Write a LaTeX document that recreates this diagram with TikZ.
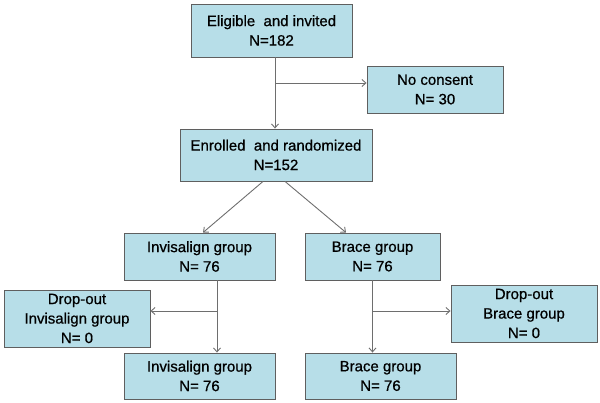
\documentclass[tikz,border=0pt]{standalone}
\usepackage{fontspec}
\setmainfont{Liberation Sans}
\newfontfamily\flowfont{Liberation Sans}[FakeBold=0.7]
\usepackage{tikz}
\usetikzlibrary{arrows.meta, positioning}
\definecolor{boxfill}{RGB}{183,222,232}
\definecolor{boxline}{RGB}{95,95,95}
\definecolor{flowline}{RGB}{110,110,110}
\tikzstyle{stage} = [rectangle, draw=boxline, fill=boxfill, line width=0.9pt, inner sep=0pt, align=center, font=\flowfont\fontsize{15}{19.5}\selectfont]
\tikzstyle{arrow} = [draw=flowline, line width=0.9pt, -{Straight Barb[length=4pt,width=7pt]}]

\begin{document}
\begin{tikzpicture}[x=1pt, y=-1pt]
\useasboundingbox (0,0) rectangle (600,403);

\node (elig) [stage, minimum width=161pt, minimum height=53pt] at (271.5,30.5) {Eligible\ \ and invited\\N=182};
\node (nocons) [stage, minimum width=136pt, minimum height=47pt] at (435,89.5) {No consent\\N= 30};
\node (enrol) [stage, minimum width=192pt, minimum height=52pt] at (276,155) {Enrolled\ \ and randomized\\N=152};
\node (inv1) [stage, minimum width=151pt, minimum height=47pt] at (199.5,256.5) {Invisalign group\\N= 76};
\node (brace1) [stage, minimum width=135pt, minimum height=47pt] at (372.5,256.5) {Brace group\\N= 76};
\node (dropinv) [stage, minimum width=146pt, minimum height=57pt] at (77,318.5) {Drop-out\\Invisalign group\\N= 0};
\node (dropbr) [stage, minimum width=146pt, minimum height=57pt] at (524,313.5) {Drop-out\\Brace group\\N= 0};
\node (inv2) [stage, minimum width=151pt, minimum height=46pt] at (199.5,376) {Invisalign group\\N= 76};
\node (brace2) [stage, minimum width=151pt, minimum height=46pt] at (380.5,376) {Brace group\\N= 76};

% screening
\draw [arrow] ([xshift=3.5pt]elig.south) -- ([xshift=-1pt]enrol.north);
\coordinate (split1) at (275,83);
\draw [arrow] (split1) -- (split1 -| nocons.west);

% randomization
\draw [arrow] ([xshift=-13pt]enrol.south) -- ([xshift=3.5pt]inv1.north);
\draw [arrow] ([xshift=9pt]enrol.south) -- ([xshift=-26.5pt]brace1.north);

% follow-up
\draw [arrow] ([xshift=17.5pt]inv1.south) -- ([xshift=17.5pt]inv2.north);
\coordinate (split2) at (217,311);
\draw [arrow] (split2) -- (split2 -| dropinv.east);
\draw [arrow] (brace1.south) -- (brace1.south |- brace2.north);
\coordinate (split3) at (373,311);
\draw [arrow] (split3) -- (split3 -| dropbr.west);

\end{tikzpicture}
\end{document}
